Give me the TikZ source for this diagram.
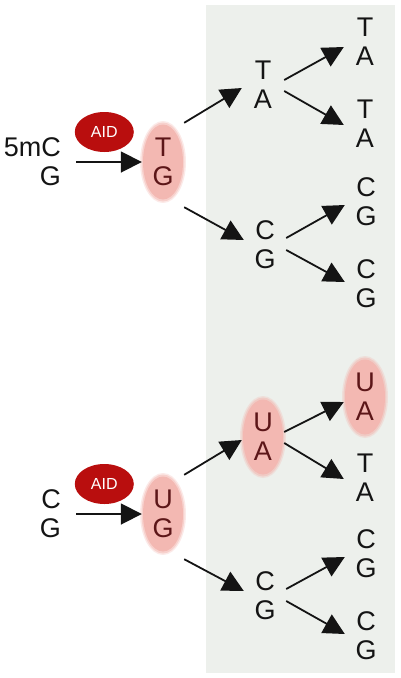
\documentclass[tikz,border=0pt]{standalone}
\usepackage{fontspec}
\setmainfont{Liberation Sans}
\usetikzlibrary{positioning,arrows.meta,shapes.geometric}

\definecolor{ink}{RGB}{20,20,20}
\definecolor{wine}{RGB}{92,22,24}
\definecolor{blush}{RGB}{243,184,178}
\definecolor{aidred}{RGB}{185,14,14}
\definecolor{panel}{RGB}{237,240,236}

\pgfdeclarelayer{background}
\pgfsetlayers{background,main}

\tikzset{
  pair/.style={rectangle, inner sep=0pt, minimum width=42pt, minimum height=78pt,
    align=center, text=ink, font=\fontsize{27}{29}\selectfont},
  start/.style={inner sep=0pt, anchor=east, align=right, text=ink,
    font=\fontsize{27}{29}\selectfont},
  hl/.style={text=wine},
  aid/.style={ellipse, fill=aidred, minimum width=59pt, minimum height=40pt,
    inner sep=0pt, text=white, font=\fontsize{16}{17}\selectfont},
  arr/.style={-{Triangle[length=21pt,width=21pt]}, line width=1.8pt, draw=ink},
}

\begin{document}
\begin{tikzpicture}[x=1pt, y=-1pt, on grid]
  \useasboundingbox (0,0) rectangle (400,678);

  % 5mC : G pair
  \node[start] (mc) at (61,162) {5mC\\G};
  \node[pair, hl] (tg) at (163,162) {T\\G};
  \node[pair, right=100pt of tg, yshift=77pt] (ta) {T\\A};
  \node[pair, right=102pt of tg, yshift=-83pt] (cg) {C\\G};
  \node[pair, right=102pt of ta, yshift=43pt] (ta1) {T\\A};
  \node[pair, right=102pt of ta, yshift=-39pt] (ta2) {T\\A};
  \node[pair, right=101pt of cg, yshift=43pt] (cg1) {C\\G};
  \node[pair, right=101pt of cg, yshift=-39pt] (cg2) {C\\G};

  \draw[arr] ([xshift=15pt]mc.east) -- node[aid, pos=.43, yshift=30pt] (aidt) {AID} (tg.west);
  \draw[arr] (tg.north east) -- ([yshift=-3pt]ta.west);
  \draw[arr] ([yshift=-6pt]tg.south east) -- ([yshift=5pt]cg.west);
  \draw[arr] ([yshift=5pt]ta.east) -- ([yshift=-5pt]ta1.west);
  \draw[arr] ([yshift=-6pt]ta.east) -- ([yshift=-1pt]ta2.west);
  \draw[arr] ([yshift=7pt]cg.east) -- ([yshift=-3pt]cg1.west);
  \draw[arr] ([yshift=-5pt]cg.east) -- ([yshift=2pt]cg2.west);

  % C : G pair
  \node[start] (cgs) at (61,514) {C\\G};
  \node[pair, hl] (ug) at (163,514) {U\\G};
  \node[pair, hl, right=100pt of ug, yshift=77pt] (ua) {U\\A};
  \node[pair, right=102pt of ug, yshift=-82pt] (cgm) {C\\G};
  \node[pair, hl, right=102pt of ua, yshift=40pt] (ua1) {U\\A};
  \node[pair, right=102pt of ua, yshift=-41pt] (ta3) {T\\A};
  \node[pair, right=101pt of cgm, yshift=42pt] (cg3) {C\\G};
  \node[pair, right=101pt of cgm, yshift=-40pt] (cg4) {C\\G};

  \draw[arr] ([xshift=15pt]cgs.east) -- node[aid, pos=.43, yshift=30pt] (aidb) {AID} (ug.west);
  \draw[arr] (ug.north east) -- ([yshift=-3pt]ua.west);
  \draw[arr] ([yshift=-6pt]ug.south east) -- ([yshift=5pt]cgm.west);
  \draw[arr] ([yshift=5pt]ua.east) -- ([yshift=-5pt]ua1.west);
  \draw[arr] ([yshift=-6pt]ua.east) -- ([yshift=-1pt]ta3.west);
  \draw[arr] ([yshift=7pt]cgm.east) -- ([yshift=-3pt]cg3.west);
  \draw[arr] ([yshift=-5pt]cgm.east) -- ([yshift=2pt]cg4.west);

  % grey panel and soft pink marks behind the pairs
  \begin{pgfonlayer}{background}
    \fill[panel] (206,5) rectangle (395,673);
    \foreach \n in {tg,ug,ua,ua1}{
      \fill[blush, opacity=.3] (\n) ellipse [x radius=23pt, y radius=41pt];
      \fill[blush, opacity=.5] (\n) ellipse [x radius=21.5pt, y radius=39.5pt];
      \fill[blush] (\n) ellipse [x radius=20pt, y radius=37.5pt];
    }
  \end{pgfonlayer}
\end{tikzpicture}
\end{document}
